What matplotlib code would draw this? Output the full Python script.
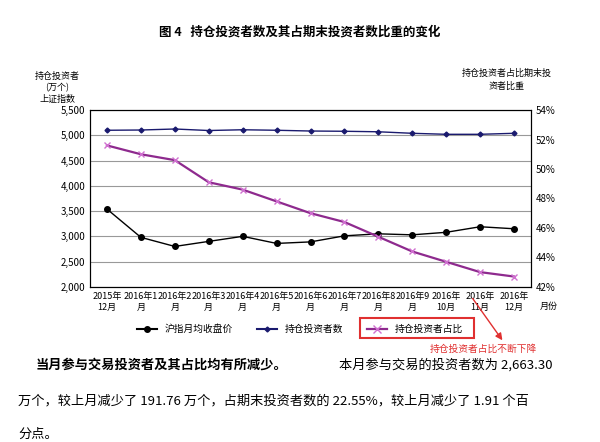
import matplotlib.pyplot as plt
from matplotlib.lines import Line2D
from matplotlib.patches import Rectangle

plt.rcParams['font.family'] = 'Noto Sans CJK SC'

months = ['2015年\n12月', '2016年1\n月', '2016年2\n月', '2016年3\n月', '2016年4\n月', '2016年5\n月',
          '2016年6\n月', '2016年7\n月', '2016年8\n月', '2016年9\n月', '2016年\n10月', '2016年\n11月', '2016年\n12月']
index_close = [3540, 2980, 2800, 2900, 3000, 2860, 2890, 3010, 3050, 3030, 3080, 3190, 3150]
investors = [5100, 5105, 5125, 5095, 5110, 5100, 5085, 5080, 5070, 5040, 5020, 5020, 5040]
ratio_pct = [51.6, 51.0, 50.6, 49.1, 48.6, 47.8, 47.0, 46.4, 45.4, 44.4, 43.7, 43.0, 42.7]

fig = plt.figure(figsize=(6, 4.42), dpi=100)
ax = fig.add_axes([0.15, 0.351, 0.735, 0.40])
x = range(len(months))

ax.plot(x, index_close, color='black', marker='o', markersize=4, lw=1)
ax.plot(x, investors, color='#1a1a6e', marker='D', markersize=2.5, lw=1)
ax.set_ylim(2000, 5500)
ax.set_yticks(range(2000, 5501, 500))
ax.set_yticklabels([f'{v:,}' for v in range(2000, 5501, 500)], fontsize=7)
ax.yaxis.grid(True, color='#999999', lw=0.8)
ax.set_axisbelow(True)
ax.set_xlim(-0.5, len(months) - 0.5)
ax.set_xticks(list(x))
ax.set_xticklabels(months, fontsize=6.5, linespacing=1.3)
ax.tick_params(length=0)

ax2 = ax.twinx()
ax2.plot(x, ratio_pct, color='#8e2a8e', marker='x', markersize=5, mec='#d070d0', lw=1.6)
ax2.set_ylim(42, 54)
ax2.set_yticks(range(42, 55, 2))
ax2.set_yticklabels([f'{v}%' for v in range(42, 55, 2)], fontsize=7)
ax2.tick_params(length=0)

fig.text(0.5, 0.92, '图 4   持仓投资者数及其占期末投资者数比重的变化', ha='center', fontsize=9, weight='bold')
fig.text(0.095, 0.77, '持仓投资者\n(万个)\n上证指数', ha='center', fontsize=6.5, linespacing=1.3)
fig.text(0.845, 0.8, '持仓投资者占比期末投\n资者比重', ha='center', fontsize=6.5, linespacing=1.4)
fig.text(0.9, 0.3, '月份', fontsize=6.5)

handles = [Line2D([], [], color='black', marker='o', markersize=4),
           Line2D([], [], color='#1a1a6e', marker='D', markersize=2.5),
           Line2D([], [], color='#8e2a8e', marker='x', mec='#d070d0', lw=1.6)]
fig.legend(handles, ['沪指月均收盘价', '持仓投资者数', '持仓投资者占比'], loc='center',
           bbox_to_anchor=(0.5, 0.255), ncol=3, frameon=False, fontsize=7, columnspacing=2.5)
fig.patches.append(Rectangle((0.6, 0.235), 0.19, 0.045, transform=fig.transFigure,
                             fill=False, ec='#e03030', lw=1.5))
fig.text(0.805, 0.205, '持仓投资者占比不断下降', fontsize=7, color='#e03030', ha='center')
ax.annotate('', xy=(0.84, 0.225), xytext=(0.785, 0.33), xycoords='figure fraction',
            arrowprops=dict(arrowstyle='-|>', color='#e03030', lw=1))

fig.text(0.06, 0.165, '当月参与交易投资者及其占比均有所减少。', fontsize=9.5, weight='bold')
fig.text(0.565, 0.165, '本月参与交易的投资者数为 2,663.30', fontsize=9.5)
fig.text(0.03, 0.085, '万个，较上月减少了 191.76 万个，占期末投资者数的 22.55%，较上月减少了 1.91 个百', fontsize=9.5)
fig.text(0.03, 0.01, '分点。', fontsize=9.5)

fig.savefig('out.png')
